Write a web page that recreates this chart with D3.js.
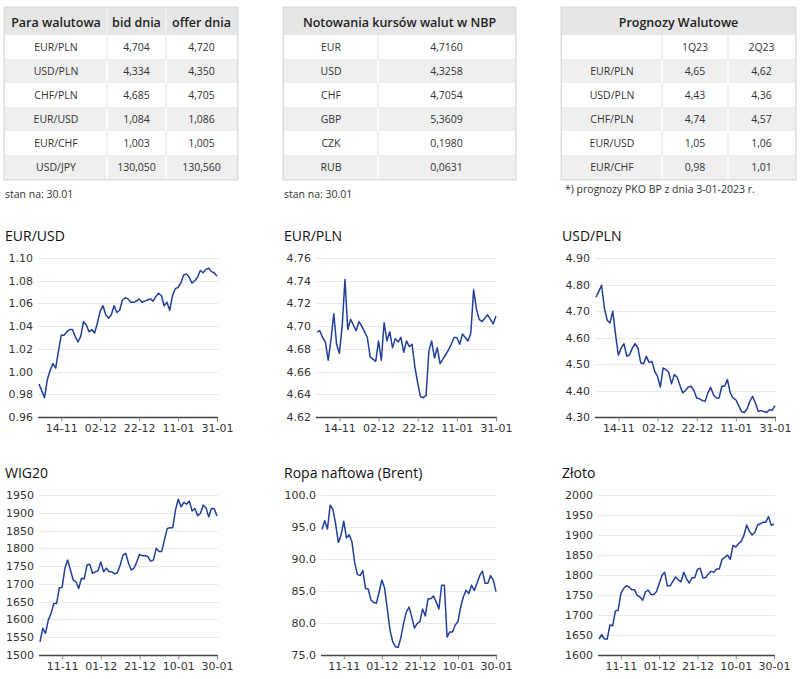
<!DOCTYPE html>
<html>
<head>
<meta charset="utf-8">
<script src="https://cdn.jsdelivr.net/npm/d3@7"></script>
<style>
  html, body { margin: 0; padding: 0; background: #ffffff; }
  svg { display: block; }
</style>
</head>
<body>
<svg id="chart" width="800" height="679"></svg>
<script>
// ---------- TABLE DATA ----------
const t1Header = ["Para walutowa", "bid dnia", "offer dnia"];
const t1Pairs  = ["EUR/PLN", "USD/PLN", "CHF/PLN", "EUR/USD", "EUR/CHF", "USD/JPY"];
const t1Bid    = ["4,704", "4,334", "4,685", "1,084", "1,003", "130,050"];
const t1Offer  = ["4,720", "4,350", "4,705", "1,086", "1,005", "130,560"];
const t1Note   = "stan na: 30.01";

const t2Header = "Notowania kursów walut w NBP";
const t2Codes  = ["EUR", "USD", "CHF", "GBP", "CZK", "RUB"];
const t2Rates  = ["4,7160", "4,3258", "4,7054", "5,3609", "0,1980", "0,0631"];
const t2Note   = "stan na: 30.01";

const t3Header = "Prognozy Walutowe";
const t3Quarters = ["1Q23", "2Q23"];
const t3Pairs  = ["EUR/PLN", "USD/PLN", "CHF/PLN", "EUR/USD", "EUR/CHF"];
const t3Q1     = ["4,65", "4,43", "4,74", "1,05", "0,98"];
const t3Q2     = ["4,62", "4,36", "4,57", "1,06", "1,01"];
const t3Note   = "*) prognozy PKO BP z dnia 3-01-2023 r.";

// ---------- CHART DATA ----------
const fxTickLabels    = ["14-11", "02-12", "22-12", "11-01", "31-01"];
const otherTickLabels = ["11-11", "01-12", "21-12", "10-01", "30-01"];
const tickIndex       = [8, 22, 36, 50, 64];

const eurusd = [0.989,0.983,0.977,0.993,1.001,1.007,1.003,1.018,1.032,1.032,1.035,1.037,1.037,1.031,1.026,1.031,
  1.044,1.041,1.035,1.037,1.034,1.043,1.053,1.058,1.050,1.047,1.050,1.058,1.052,1.054,1.063,1.065,1.064,1.061,
  1.061,1.062,1.064,1.061,1.062,1.063,1.064,1.062,1.066,1.069,1.067,1.058,1.061,1.054,1.067,1.073,1.074,1.078,
  1.085,1.086,1.083,1.078,1.080,1.083,1.089,1.087,1.090,1.091,1.088,1.087,1.084];
const eurpln = [4.695,4.696,4.690,4.686,4.670,4.688,4.711,4.684,4.676,4.700,4.741,4.697,4.706,4.701,4.696,4.704,
  4.700,4.695,4.690,4.673,4.671,4.669,4.687,4.670,4.703,4.687,4.695,4.681,4.689,4.686,4.690,4.677,4.687,4.682,
  4.684,4.664,4.650,4.638,4.637,4.639,4.678,4.687,4.672,4.681,4.667,4.671,4.675,4.679,4.684,4.690,4.690,4.684,
  4.693,4.690,4.687,4.694,4.732,4.715,4.706,4.704,4.707,4.710,4.706,4.702,4.709];
const usdpln = [4.752,4.774,4.797,4.711,4.665,4.655,4.699,4.610,4.533,4.560,4.577,4.529,4.535,4.560,4.577,4.560,
  4.504,4.501,4.529,4.506,4.510,4.472,4.453,4.413,4.485,4.479,4.469,4.425,4.460,4.450,4.420,4.391,4.400,4.413,
  4.416,4.400,4.372,4.369,4.362,4.359,4.391,4.412,4.384,4.372,4.372,4.416,4.416,4.441,4.391,4.372,4.365,4.343,
  4.321,4.317,4.330,4.359,4.378,4.353,4.321,4.324,4.321,4.317,4.327,4.325,4.343];
const wig20 = [1537,1575,1561,1598,1617,1645,1645,1689,1690,1744,1767,1739,1711,1706,1687,1716,1714,1753,1755,
  1730,1734,1737,1762,1734,1744,1734,1734,1728,1732,1753,1781,1786,1758,1739,1744,1762,1783,1779,1779,1777,
  1764,1767,1800,1791,1791,1824,1856,1858,1858,1908,1938,1917,1929,1924,1933,1905,1912,1892,1898,1922,1914,
  1889,1912,1911,1891];
const brent = [94.6,96.0,94.7,98.4,97.8,95.5,92.6,93.7,95.9,93.3,93.8,92.7,89.5,87.6,87.4,88.2,85.4,85.3,83.6,
  83.2,83.1,84.8,86.7,85.5,82.3,78.9,77.1,76.3,76.2,77.7,79.9,81.7,82.5,81.0,79.2,79.9,80.2,82.2,81.1,83.8,
  83.8,84.2,83.3,82.2,85.9,85.9,77.8,78.6,78.6,79.7,80.2,82.5,84.1,85.1,84.6,85.9,85.1,86.2,87.4,88.1,86.2,
  86.2,87.4,86.7,84.9];
const gold = [1640,1651,1640,1640,1675,1673,1710,1712,1754,1766,1773,1770,1763,1763,1749,1745,1737,1758,1762,
  1751,1751,1758,1778,1799,1807,1773,1773,1784,1795,1788,1783,1807,1791,1780,1793,1793,1814,1817,1793,1793,
  1803,1809,1807,1815,1815,1839,1844,1850,1839,1874,1870,1878,1884,1899,1925,1909,1900,1907,1925,1928,1932,
  1932,1946,1924,1928];

const svg = d3.select("#chart");
const TFONT = "'Open Sans', sans-serif";

// ---------- TABLES ----------
function drawTable(g, x, cols, header, headerSpan, rows, note, noteY) {
  // cols: array of column x boundaries
  const top = 8, headH = 27, rowH = 24;
  const width = cols[cols.length - 1] - cols[0];
  const height = headH + rows.length * rowH;
  // outer frame
  g.append("rect").attr("x", cols[0] - 1.5).attr("y", top - 1.5)
    .attr("width", width + 3).attr("height", height + 3)
    .attr("fill", "#dcdcdc");
  // header
  g.append("rect").attr("x", cols[0]).attr("y", top).attr("width", width).attr("height", headH)
    .attr("fill", "#e6e6e6");
  if (headerSpan) {
    g.append("text").attr("x", (cols[0] + cols[cols.length - 1]) / 2).attr("y", top + 18.5)
      .attr("text-anchor", "middle").attr("font-family", TFONT).attr("font-size", 12.5)
      .attr("font-weight", 600).attr("fill", "#222").text(header);
  } else {
    header.forEach((h, i) => {
      g.append("text").attr("x", (cols[i] + cols[i + 1]) / 2).attr("y", top + 18.5)
        .attr("text-anchor", "middle").attr("font-family", TFONT).attr("font-size", 12.5)
        .attr("font-weight", 600).attr("fill", "#222").text(h);
    });
    for (let i = 1; i < cols.length - 1; i++) {
      g.append("line").attr("x1", cols[i]).attr("x2", cols[i]).attr("y1", top).attr("y2", top + headH)
        .attr("stroke", "#f2f2f2").attr("stroke-width", 1.5);
    }
  }
  // body rows
  const rowG = g.selectAll("g.row").data(rows).join("g").attr("class", "row")
    .attr("transform", (d, i) => `translate(0,${top + headH + i * rowH})`);
  rowG.append("rect").attr("x", cols[0]).attr("y", 0).attr("width", width).attr("height", rowH)
    .attr("fill", (d, i) => i % 2 === 1 ? "#efefef" : "#ffffff");
  rowG.each(function(d, ri) {
    const rg = d3.select(this);
    d.forEach((v, ci) => {
      rg.append("text").attr("x", (cols[ci] + cols[ci + 1]) / 2).attr("y", 16)
        .attr("text-anchor", "middle").attr("font-family", TFONT).attr("font-size", 10.5)
        .attr("fill", "#333").text(v);
    });
    for (let i = 1; i < cols.length - 1; i++) {
      rg.append("line").attr("x1", cols[i]).attr("x2", cols[i]).attr("y1", 0).attr("y2", rowH)
        .attr("stroke", ri % 2 === 1 ? "#ffffff" : "#ececec").attr("stroke-width", 1.5);
    }
  });
  g.append("text").attr("x", cols[0] + (note.startsWith("*") ? 3 : 0)).attr("y", noteY)
    .attr("font-family", TFONT).attr("font-size", 10.5).attr("fill", "#333").text(note);
}

drawTable(svg.append("g"), 0, [5, 107, 166, 237], t1Header, false,
  t1Pairs.map((p, i) => [p, t1Bid[i], t1Offer[i]]), t1Note, 198);
drawTable(svg.append("g"), 0, [284, 378, 515], t2Header, true,
  t2Codes.map((c, i) => [c, t2Rates[i]]), t2Note, 198);
drawTable(svg.append("g"), 0, [562, 662, 728, 795], t3Header, true,
  [["", t3Quarters[0], t3Quarters[1]]].concat(t3Pairs.map((p, i) => [p, t3Q1[i], t3Q2[i]])), t3Note, 193);

// ---------- LINE CHARTS ----------
const panels = [
  { title: "EUR/USD", tx: 5,   ty: 241, x0: 39,  x1: 217, yT: 258, yB: 417, data: eurusd, dom: [0.96, 1.10], step: 0.02, fmt: ".2f", labels: fxTickLabels },
  { title: "EUR/PLN", tx: 284, ty: 241, x0: 317, x1: 496, yT: 258, yB: 417, data: eurpln, dom: [4.62, 4.76], step: 0.02, fmt: ".2f", labels: fxTickLabels },
  { title: "USD/PLN", tx: 562, ty: 241, x0: 596, x1: 775, yT: 258, yB: 417, data: usdpln, dom: [4.30, 4.90], step: 0.10, fmt: ".2f", labels: fxTickLabels },
  { title: "WIG20",   tx: 5,   ty: 478, x0: 40,  x1: 217, yT: 495, yB: 655, data: wig20, dom: [1500, 1950], step: 50, fmt: "d", labels: otherTickLabels },
  { title: "Ropa naftowa (Brent)", tx: 284, ty: 478, x0: 322, x1: 496, yT: 495, yB: 655, data: brent, dom: [75, 100], step: 5, fmt: ".1f", labels: otherTickLabels },
  { title: "Złoto",   tx: 562, ty: 478, x0: 599, x1: 774, yT: 495, yB: 655, data: gold, dom: [1600, 2000], step: 50, fmt: "d", labels: otherTickLabels }
];

const AFONT = "'DejaVu Sans', sans-serif";

panels.forEach(p => {
  const g = svg.append("g");
  const x = d3.scaleLinear().domain([0, p.data.length - 1]).range([p.x0, p.x1]);
  const y = d3.scaleLinear().domain(p.dom).range([p.yB, p.yT]);
  const nT = Math.round((p.dom[1] - p.dom[0]) / p.step);
  const yTicks = d3.range(nT + 1).map(i => p.dom[0] + i * p.step);

  g.append("text").attr("x", p.tx).attr("y", p.ty).attr("font-family", TFONT)
    .attr("font-size", 14).attr("fill", "#111").text(p.title);

  // gridlines
  g.selectAll("line.grid").data(yTicks.slice(1)).join("line").attr("class", "grid")
    .attr("x1", p.x0 - 1).attr("x2", p.x1 + 1)
    .attr("y1", d => Math.round(y(d)) + 0.5).attr("y2", d => Math.round(y(d)) + 0.5)
    .attr("stroke", "#e9e9e9").attr("stroke-width", 1);

  // y axis labels
  const yAxis = d3.axisLeft(y).tickValues(yTicks).tickFormat(d3.format(p.fmt)).tickSize(0).tickPadding(5);
  const ya = g.append("g").attr("transform", `translate(${p.x0 - 1},0)`).call(yAxis);
  ya.select(".domain").remove();
  ya.selectAll("text").attr("font-family", AFONT).attr("font-size", 11).attr("fill", "#333");

  // x axis
  const xAxis = d3.axisBottom(x).tickValues(tickIndex)
    .tickFormat((d, i) => p.labels[i]).tickSize(4).tickSizeOuter(0).tickPadding(3);
  const xa = g.append("g").attr("transform", `translate(0,${Math.round(p.yB) + 0.5})`).call(xAxis);
  xa.select(".domain").attr("d", `M${p.x0 - 1},0H${p.x1 + 1}`).attr("stroke", "#444").attr("stroke-width", 1.3);
  xa.selectAll(".tick line").attr("stroke", "#888");
  xa.selectAll("text").attr("font-family", AFONT).attr("font-size", 11).attr("fill", "#333");

  // line
  const line = d3.line().x((d, i) => x(i)).y(d => y(d));
  g.append("path").datum(p.data).attr("d", line).attr("fill", "none")
    .attr("stroke", "#21409a").attr("stroke-width", 1.5).attr("stroke-linejoin", "round");
});
</script>
</body>
</html>
